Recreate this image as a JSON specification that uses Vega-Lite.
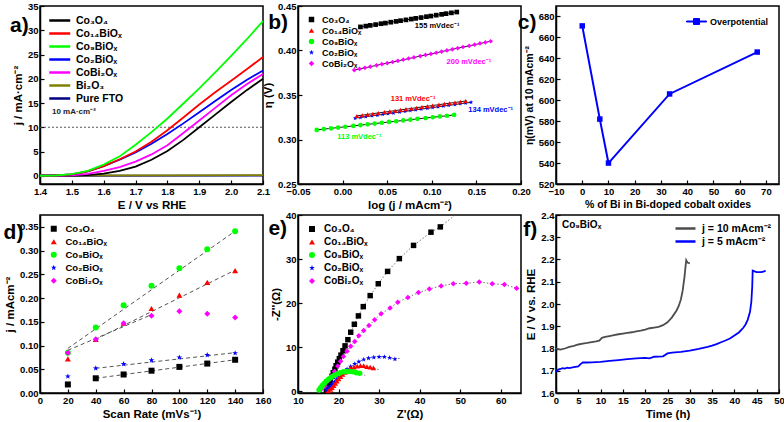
{
"$schema":"https://vega.github.io/schema/vega-lite/v6.json",
"padding":{"left":2,"top":0,"right":1,"bottom":0},
"background":"white",
"columns":3,
"spacing":{"row":31,"column":35},
"bounds":"flush",
"resolve":{"scale":{"color":"independent","shape":"independent"}},
"config":{
 "font":"Liberation Sans",
 "view":{"stroke":"#000","strokeWidth":1.5},
 "axis":{"grid":false,"labelFont":"Liberation Sans","labelFontWeight":"bold","labelFontSize":9.5,"labelColor":"#000","labelFlush":false,"labelOverlap":false,"titleFont":"Liberation Sans","titleFontWeight":"bold","titleFontSize":11.5,"titleColor":"#000","domainColor":"#000","domainWidth":1.5,"tickColor":"#000","tickWidth":1.2,"tickSize":-4,"labelPadding":6,"titlePadding":4},
 "legend":{"labelFont":"Liberation Sans","labelFontWeight":"bold","labelColor":"#000","labelFontSize":10}
},
"datasets":{
 "a":[
  {"s":"Pure FTO","x":1.4,"y":0},{"s":"Pure FTO","x":2.1,"y":0.02},
  {"s":"Bi₂O₃","x":1.4,"y":0.05},{"s":"Bi₂O₃","x":1.75,"y":0.08},{"s":"Bi₂O₃","x":2.1,"y":0.12},
  {"s":"Co₃O₄","x":1.4,"y":0},{"s":"Co₃O₄","x":1.45,"y":0},{"s":"Co₃O₄","x":1.5,"y":0.05},{"s":"Co₃O₄","x":1.55,"y":0.15},{"s":"Co₃O₄","x":1.6,"y":0.45},{"s":"Co₃O₄","x":1.65,"y":1.0},{"s":"Co₃O₄","x":1.7,"y":1.9},{"s":"Co₃O₄","x":1.75,"y":3.3},{"s":"Co₃O₄","x":1.8,"y":5.1},{"s":"Co₃O₄","x":1.85,"y":7.4},{"s":"Co₃O₄","x":1.9,"y":10.0},{"s":"Co₃O₄","x":1.95,"y":12.6},{"s":"Co₃O₄","x":2.0,"y":15.2},{"s":"Co₃O₄","x":2.05,"y":17.7},{"s":"Co₃O₄","x":2.1,"y":20.0},
  {"s":"CoBi₂Oₓ","x":1.4,"y":0},{"s":"CoBi₂Oₓ","x":1.45,"y":0},{"s":"CoBi₂Oₓ","x":1.5,"y":0.1},{"s":"CoBi₂Oₓ","x":1.55,"y":0.4},{"s":"CoBi₂Oₓ","x":1.6,"y":1.0},{"s":"CoBi₂Oₓ","x":1.65,"y":1.8},{"s":"CoBi₂Oₓ","x":1.7,"y":2.9},{"s":"CoBi₂Oₓ","x":1.75,"y":4.4},{"s":"CoBi₂Oₓ","x":1.8,"y":6.3},{"s":"CoBi₂Oₓ","x":1.85,"y":8.8},{"s":"CoBi₂Oₓ","x":1.9,"y":11.4},{"s":"CoBi₂Oₓ","x":1.95,"y":14.0},{"s":"CoBi₂Oₓ","x":2.0,"y":16.6},{"s":"CoBi₂Oₓ","x":2.05,"y":18.9},{"s":"CoBi₂Oₓ","x":2.1,"y":21.0},
  {"s":"Co₂BiOₓ","x":1.4,"y":0},{"s":"Co₂BiOₓ","x":1.45,"y":0.05},{"s":"Co₂BiOₓ","x":1.5,"y":0.3},{"s":"Co₂BiOₓ","x":1.55,"y":0.9},{"s":"Co₂BiOₓ","x":1.6,"y":2.0},{"s":"Co₂BiOₓ","x":1.65,"y":3.3},{"s":"Co₂BiOₓ","x":1.7,"y":4.8},{"s":"Co₂BiOₓ","x":1.75,"y":6.6},{"s":"Co₂BiOₓ","x":1.8,"y":8.6},{"s":"Co₂BiOₓ","x":1.85,"y":10.8},{"s":"Co₂BiOₓ","x":1.9,"y":13.1},{"s":"Co₂BiOₓ","x":1.95,"y":15.4},{"s":"Co₂BiOₓ","x":2.0,"y":17.7},{"s":"Co₂BiOₓ","x":2.05,"y":19.8},{"s":"Co₂BiOₓ","x":2.1,"y":21.7},
  {"s":"Co₁₄BiOₓ","x":1.4,"y":0},{"s":"Co₁₄BiOₓ","x":1.45,"y":0.05},{"s":"Co₁₄BiOₓ","x":1.5,"y":0.3},{"s":"Co₁₄BiOₓ","x":1.55,"y":0.9},{"s":"Co₁₄BiOₓ","x":1.6,"y":2.0},{"s":"Co₁₄BiOₓ","x":1.65,"y":3.4},{"s":"Co₁₄BiOₓ","x":1.7,"y":5.0},{"s":"Co₁₄BiOₓ","x":1.75,"y":7.0},{"s":"Co₁₄BiOₓ","x":1.8,"y":9.4},{"s":"Co₁₄BiOₓ","x":1.85,"y":12.0},{"s":"Co₁₄BiOₓ","x":1.9,"y":14.7},{"s":"Co₁₄BiOₓ","x":1.95,"y":17.2},{"s":"Co₁₄BiOₓ","x":2.0,"y":19.6},{"s":"Co₁₄BiOₓ","x":2.05,"y":22.0},{"s":"Co₁₄BiOₓ","x":2.1,"y":24.5},
  {"s":"Co₉BiOₓ","x":1.4,"y":0},{"s":"Co₉BiOₓ","x":1.45,"y":0.05},{"s":"Co₉BiOₓ","x":1.5,"y":0.35},{"s":"Co₉BiOₓ","x":1.55,"y":1.0},{"s":"Co₉BiOₓ","x":1.6,"y":2.3},{"s":"Co₉BiOₓ","x":1.65,"y":4.0},{"s":"Co₉BiOₓ","x":1.7,"y":6.4},{"s":"Co₉BiOₓ","x":1.75,"y":9.0},{"s":"Co₉BiOₓ","x":1.8,"y":11.8},{"s":"Co₉BiOₓ","x":1.85,"y":14.9},{"s":"Co₉BiOₓ","x":1.9,"y":18.0},{"s":"Co₉BiOₓ","x":1.95,"y":21.3},{"s":"Co₉BiOₓ","x":2.0,"y":24.7},{"s":"Co₉BiOₓ","x":2.05,"y":28.2},{"s":"Co₉BiOₓ","x":2.1,"y":31.9}
 ],
 "b":[
  {"s":"Co₃O₄","x":0.020,"y":0.4265},{"s":"Co₃O₄","x":0.026,"y":0.4274},{"s":"Co₃O₄","x":0.031,"y":0.4282},{"s":"Co₃O₄","x":0.037,"y":0.4291},{"s":"Co₃O₄","x":0.043,"y":0.4301},{"s":"Co₃O₄","x":0.048,"y":0.4308},{"s":"Co₃O₄","x":0.054,"y":0.4318},{"s":"Co₃O₄","x":0.060,"y":0.4327},{"s":"Co₃O₄","x":0.065,"y":0.4335},{"s":"Co₃O₄","x":0.071,"y":0.4344},{"s":"Co₃O₄","x":0.077,"y":0.4353},{"s":"Co₃O₄","x":0.082,"y":0.4361},{"s":"Co₃O₄","x":0.088,"y":0.4370},{"s":"Co₃O₄","x":0.094,"y":0.4380},{"s":"Co₃O₄","x":0.099,"y":0.4387},{"s":"Co₃O₄","x":0.105,"y":0.4397},{"s":"Co₃O₄","x":0.111,"y":0.4406},{"s":"Co₃O₄","x":0.116,"y":0.4414},{"s":"Co₃O₄","x":0.122,"y":0.4423},{"s":"Co₃O₄","x":0.128,"y":0.4432},
  {"s":"CoBi₂Oₓ","x":0.013,"y":0.3780},{"s":"CoBi₂Oₓ","x":0.019,"y":0.3793},{"s":"CoBi₂Oₓ","x":0.025,"y":0.3805},{"s":"CoBi₂Oₓ","x":0.031,"y":0.3818},{"s":"CoBi₂Oₓ","x":0.038,"y":0.3833},{"s":"CoBi₂Oₓ","x":0.044,"y":0.3846},{"s":"CoBi₂Oₓ","x":0.050,"y":0.3858},{"s":"CoBi₂Oₓ","x":0.056,"y":0.3871},{"s":"CoBi₂Oₓ","x":0.062,"y":0.3884},{"s":"CoBi₂Oₓ","x":0.068,"y":0.3897},{"s":"CoBi₂Oₓ","x":0.074,"y":0.3910},{"s":"CoBi₂Oₓ","x":0.080,"y":0.3922},{"s":"CoBi₂Oₓ","x":0.087,"y":0.3937},{"s":"CoBi₂Oₓ","x":0.093,"y":0.3950},{"s":"CoBi₂Oₓ","x":0.099,"y":0.3962},{"s":"CoBi₂Oₓ","x":0.105,"y":0.3975},{"s":"CoBi₂Oₓ","x":0.111,"y":0.3988},{"s":"CoBi₂Oₓ","x":0.117,"y":0.4001},{"s":"CoBi₂Oₓ","x":0.123,"y":0.4013},{"s":"CoBi₂Oₓ","x":0.129,"y":0.4026},{"s":"CoBi₂Oₓ","x":0.135,"y":0.4039},{"s":"CoBi₂Oₓ","x":0.142,"y":0.4053},{"s":"CoBi₂Oₓ","x":0.148,"y":0.4066},{"s":"CoBi₂Oₓ","x":0.154,"y":0.4079},{"s":"CoBi₂Oₓ","x":0.160,"y":0.4091},{"s":"CoBi₂Oₓ","x":0.166,"y":0.4104},
  {"s":"Co₂BiOₓ","x":0.014,"y":0.3239},{"s":"Co₂BiOₓ","x":0.020,"y":0.3247},{"s":"Co₂BiOₓ","x":0.026,"y":0.3256},{"s":"Co₂BiOₓ","x":0.033,"y":0.3265},{"s":"Co₂BiOₓ","x":0.039,"y":0.3273},{"s":"Co₂BiOₓ","x":0.045,"y":0.3282},{"s":"Co₂BiOₓ","x":0.051,"y":0.3290},{"s":"Co₂BiOₓ","x":0.057,"y":0.3298},{"s":"Co₂BiOₓ","x":0.064,"y":0.3308},{"s":"Co₂BiOₓ","x":0.070,"y":0.3316},{"s":"Co₂BiOₓ","x":0.076,"y":0.3324},{"s":"Co₂BiOₓ","x":0.082,"y":0.3333},{"s":"Co₂BiOₓ","x":0.088,"y":0.3341},{"s":"Co₂BiOₓ","x":0.095,"y":0.3351},{"s":"Co₂BiOₓ","x":0.101,"y":0.3359},{"s":"Co₂BiOₓ","x":0.107,"y":0.3367},{"s":"Co₂BiOₓ","x":0.113,"y":0.3375},{"s":"Co₂BiOₓ","x":0.119,"y":0.3384},{"s":"Co₂BiOₓ","x":0.126,"y":0.3393},{"s":"Co₂BiOₓ","x":0.132,"y":0.3402},{"s":"Co₂BiOₓ","x":0.138,"y":0.3410},{"s":"Co₂BiOₓ","x":0.144,"y":0.3418},
  {"s":"Co₁₄BiOₓ","x":0.016,"y":0.3265},{"s":"Co₁₄BiOₓ","x":0.022,"y":0.3273},{"s":"Co₁₄BiOₓ","x":0.028,"y":0.3282},{"s":"Co₁₄BiOₓ","x":0.034,"y":0.3290},{"s":"Co₁₄BiOₓ","x":0.040,"y":0.3298},{"s":"Co₁₄BiOₓ","x":0.047,"y":0.3308},{"s":"Co₁₄BiOₓ","x":0.053,"y":0.3316},{"s":"Co₁₄BiOₓ","x":0.059,"y":0.3324},{"s":"Co₁₄BiOₓ","x":0.065,"y":0.3333},{"s":"Co₁₄BiOₓ","x":0.071,"y":0.3341},{"s":"Co₁₄BiOₓ","x":0.077,"y":0.3349},{"s":"Co₁₄BiOₓ","x":0.083,"y":0.3357},{"s":"Co₁₄BiOₓ","x":0.089,"y":0.3366},{"s":"Co₁₄BiOₓ","x":0.095,"y":0.3374},{"s":"Co₁₄BiOₓ","x":0.101,"y":0.3382},{"s":"Co₁₄BiOₓ","x":0.108,"y":0.3392},{"s":"Co₁₄BiOₓ","x":0.114,"y":0.3400},{"s":"Co₁₄BiOₓ","x":0.120,"y":0.3408},{"s":"Co₁₄BiOₓ","x":0.126,"y":0.3416},{"s":"Co₁₄BiOₓ","x":0.132,"y":0.3425},{"s":"Co₁₄BiOₓ","x":0.138,"y":0.3433},
  {"s":"Co₉BiOₓ","x":-0.029,"y":0.3108},{"s":"Co₉BiOₓ","x":-0.021,"y":0.3117},{"s":"Co₉BiOₓ","x":-0.013,"y":0.3126},{"s":"Co₉BiOₓ","x":-0.005,"y":0.3134},{"s":"Co₉BiOₓ","x":0.003,"y":0.3143},{"s":"Co₉BiOₓ","x":0.012,"y":0.3153},{"s":"Co₉BiOₓ","x":0.020,"y":0.3162},{"s":"Co₉BiOₓ","x":0.028,"y":0.3170},{"s":"Co₉BiOₓ","x":0.036,"y":0.3179},{"s":"Co₉BiOₓ","x":0.044,"y":0.3188},{"s":"Co₉BiOₓ","x":0.052,"y":0.3197},{"s":"Co₉BiOₓ","x":0.060,"y":0.3205},{"s":"Co₉BiOₓ","x":0.068,"y":0.3214},{"s":"Co₉BiOₓ","x":0.076,"y":0.3223},{"s":"Co₉BiOₓ","x":0.084,"y":0.3232},{"s":"Co₉BiOₓ","x":0.093,"y":0.3241},{"s":"Co₉BiOₓ","x":0.101,"y":0.3250},{"s":"Co₉BiOₓ","x":0.109,"y":0.3259},{"s":"Co₉BiOₓ","x":0.117,"y":0.3267},{"s":"Co₉BiOₓ","x":0.125,"y":0.3276}
 ],
 "bfit":[
  {"s":"Co₃O₄","x":0.018,"y":0.4262},{"s":"Co₃O₄","x":0.130,"y":0.4435},
  {"s":"CoBi₂Oₓ","x":0.012,"y":0.3778},{"s":"CoBi₂Oₓ","x":0.167,"y":0.4106},
  {"s":"Co₂BiOₓ","x":0.013,"y":0.3238},{"s":"Co₂BiOₓ","x":0.145,"y":0.3419},
  {"s":"Co₁₄BiOₓ","x":0.015,"y":0.3264},{"s":"Co₁₄BiOₓ","x":0.139,"y":0.3434},
  {"s":"Co₉BiOₓ","x":-0.030,"y":0.3107},{"s":"Co₉BiOₓ","x":0.126,"y":0.3277}
 ],
 "btext":[
  {"s":"Co₃O₄","x":0.106,"y":0.4276,"t":"155 mVdec⁻¹"},
  {"s":"CoBi₂Oₓ","x":0.1416,"y":0.387,"t":"200 mVdec⁻¹"},
  {"s":"Co₁₄BiOₓ","x":0.079,"y":0.346,"t":"131 mVdec⁻¹"},
  {"s":"Co₂BiOₓ","x":0.166,"y":0.3332,"t":"134 mVdec⁻¹"},
  {"s":"Co₉BiOₓ","x":0.0188,"y":0.3033,"t":"113 mVdec⁻¹"}
 ],
 "c":[
  {"s":"Overpotential","x":0,"y":671},{"s":"Overpotential","x":6.7,"y":582},{"s":"Overpotential","x":10,"y":540},{"s":"Overpotential","x":33.3,"y":606},{"s":"Overpotential","x":66.7,"y":646}
 ],
 "d":[
  {"s":"Co₃O₄","x":20,"y":0.018},{"s":"Co₃O₄","x":40,"y":0.031},{"s":"Co₃O₄","x":60,"y":0.039},{"s":"Co₃O₄","x":80,"y":0.047},{"s":"Co₃O₄","x":100,"y":0.055},{"s":"Co₃O₄","x":120,"y":0.062},{"s":"Co₃O₄","x":140,"y":0.070},
  {"s":"Co₂BiOₓ","x":20,"y":0.035},{"s":"Co₂BiOₓ","x":40,"y":0.052},{"s":"Co₂BiOₓ","x":60,"y":0.061},{"s":"Co₂BiOₓ","x":80,"y":0.069},{"s":"Co₂BiOₓ","x":100,"y":0.075},{"s":"Co₂BiOₓ","x":120,"y":0.080},{"s":"Co₂BiOₓ","x":140,"y":0.084},
  {"s":"Co₉BiOₓ","x":20,"y":0.085},{"s":"Co₉BiOₓ","x":40,"y":0.138},{"s":"Co₉BiOₓ","x":60,"y":0.185},{"s":"Co₉BiOₓ","x":80,"y":0.226},{"s":"Co₉BiOₓ","x":100,"y":0.263},{"s":"Co₉BiOₓ","x":120,"y":0.303},{"s":"Co₉BiOₓ","x":140,"y":0.341},
  {"s":"Co₁₄BiOₓ","x":20,"y":0.072},{"s":"Co₁₄BiOₓ","x":40,"y":0.113},{"s":"Co₁₄BiOₓ","x":60,"y":0.147},{"s":"Co₁₄BiOₓ","x":80,"y":0.178},{"s":"Co₁₄BiOₓ","x":100,"y":0.206},{"s":"Co₁₄BiOₓ","x":120,"y":0.233},{"s":"Co₁₄BiOₓ","x":140,"y":0.258},
  {"s":"CoBi₂Oₓ","x":20,"y":0.085},{"s":"CoBi₂Oₓ","x":40,"y":0.113},{"s":"CoBi₂Oₓ","x":60,"y":0.147},{"s":"CoBi₂Oₓ","x":80,"y":0.163},{"s":"CoBi₂Oₓ","x":100,"y":0.172},{"s":"CoBi₂Oₓ","x":120,"y":0.167},{"s":"CoBi₂Oₓ","x":140,"y":0.159}
 ],
 "dfit":[
  {"s":"Co₃O₄","x":40,"y":0.031},{"s":"Co₃O₄","x":140,"y":0.070},
  {"s":"Co₂BiOₓ","x":40,"y":0.052},{"s":"Co₂BiOₓ","x":140,"y":0.085},
  {"s":"Co₉BiOₓ","x":20,"y":0.094},{"s":"Co₉BiOₓ","x":140,"y":0.341},
  {"s":"Co₁₄BiOₓ","x":40,"y":0.113},{"s":"Co₁₄BiOₓ","x":140,"y":0.259},
  {"s":"CoBi₂Oₓ","x":20,"y":0.09},{"s":"CoBi₂Oₓ","x":80,"y":0.165}
 ],
 "e":[
  {"s":"Co₃O₄","x":17.0,"y":0.3},{"s":"Co₃O₄","x":17.3,"y":1.0},{"s":"Co₃O₄","x":17.7,"y":1.8},{"s":"Co₃O₄","x":18.0,"y":2.6},{"s":"Co₃O₄","x":18.4,"y":3.4},{"s":"Co₃O₄","x":18.7,"y":4.2},{"s":"Co₃O₄","x":19.1,"y":5.0},{"s":"Co₃O₄","x":19.4,"y":5.8},{"s":"Co₃O₄","x":19.8,"y":6.6},{"s":"Co₃O₄","x":20.2,"y":7.4},{"s":"Co₃O₄","x":20.6,"y":8.2},{"s":"Co₃O₄","x":21.1,"y":9.2},{"s":"Co₃O₄","x":21.6,"y":10.3},{"s":"Co₃O₄","x":22.3,"y":11.7},{"s":"Co₃O₄","x":23.0,"y":13.4},{"s":"Co₃O₄","x":23.9,"y":15.2},{"s":"Co₃O₄","x":24.9,"y":17.1},{"s":"Co₃O₄","x":26.1,"y":19.2},{"s":"Co₃O₄","x":27.8,"y":21.7},{"s":"Co₃O₄","x":29.8,"y":24.4},{"s":"Co₃O₄","x":32.1,"y":27.2},{"s":"Co₃O₄","x":35.0,"y":30.1},{"s":"Co₃O₄","x":38.5,"y":33.1},{"s":"Co₃O₄","x":42.8,"y":36.1},{"s":"Co₃O₄","x":45.1,"y":37.3},{"s":"Co₃O₄","x":48.5,"y":39.8,"f":1},
  {"s":"CoBi₂Oₓ","x":15.7,"y":0.4},{"s":"CoBi₂Oₓ","x":16.6,"y":1.1},{"s":"CoBi₂Oₓ","x":17.4,"y":2.3},{"s":"CoBi₂Oₓ","x":18.2,"y":3.4},{"s":"CoBi₂Oₓ","x":19.0,"y":4.5},{"s":"CoBi₂Oₓ","x":19.8,"y":5.7},{"s":"CoBi₂Oₓ","x":20.5,"y":6.8},{"s":"CoBi₂Oₓ","x":21.2,"y":7.9},{"s":"CoBi₂Oₓ","x":22.1,"y":9.1},{"s":"CoBi₂Oₓ","x":23.0,"y":10.2},{"s":"CoBi₂Oₓ","x":24.0,"y":11.3},{"s":"CoBi₂Oₓ","x":25.0,"y":12.6},{"s":"CoBi₂Oₓ","x":26.2,"y":13.8},{"s":"CoBi₂Oₓ","x":27.5,"y":14.9},{"s":"CoBi₂Oₓ","x":28.9,"y":16.2},{"s":"CoBi₂Oₓ","x":30.5,"y":17.6},{"s":"CoBi₂Oₓ","x":32.7,"y":18.9},{"s":"CoBi₂Oₓ","x":34.6,"y":20.2},{"s":"CoBi₂Oₓ","x":37.1,"y":21.3},{"s":"CoBi₂Oₓ","x":39.7,"y":22.4},{"s":"CoBi₂Oₓ","x":42.4,"y":23.2},{"s":"CoBi₂Oₓ","x":45.3,"y":23.9},{"s":"CoBi₂Oₓ","x":48.3,"y":24.4},{"s":"CoBi₂Oₓ","x":51.5,"y":24.5},{"s":"CoBi₂Oₓ","x":54.7,"y":24.8},{"s":"CoBi₂Oₓ","x":57.9,"y":24.4},{"s":"CoBi₂Oₓ","x":60.9,"y":24.2},{"s":"CoBi₂Oₓ","x":63.9,"y":23.4},{"s":"CoBi₂Oₓ","x":65.0,"y":23.0,"f":1},
  {"s":"Co₂BiOₓ","x":17.0,"y":0.2},{"s":"Co₂BiOₓ","x":17.5,"y":0.6},{"s":"Co₂BiOₓ","x":18.0,"y":1.1},{"s":"Co₂BiOₓ","x":18.5,"y":1.6},{"s":"Co₂BiOₓ","x":19.0,"y":2.1},{"s":"Co₂BiOₓ","x":19.5,"y":2.7},{"s":"Co₂BiOₓ","x":20.0,"y":3.2},{"s":"Co₂BiOₓ","x":20.6,"y":3.8},{"s":"Co₂BiOₓ","x":21.3,"y":4.4},{"s":"Co₂BiOₓ","x":22.1,"y":5.0},{"s":"Co₂BiOₓ","x":23.0,"y":5.6},{"s":"Co₂BiOₓ","x":24.0,"y":6.2},{"s":"Co₂BiOₓ","x":25.0,"y":6.7},{"s":"Co₂BiOₓ","x":26.2,"y":7.2},{"s":"Co₂BiOₓ","x":27.4,"y":7.5},{"s":"Co₂BiOₓ","x":28.7,"y":7.7},{"s":"Co₂BiOₓ","x":30.0,"y":7.8},{"s":"Co₂BiOₓ","x":31.3,"y":7.8},{"s":"Co₂BiOₓ","x":32.6,"y":7.6},{"s":"Co₂BiOₓ","x":33.9,"y":7.3},{"s":"Co₂BiOₓ","x":35.6,"y":7.5,"f":1},
  {"s":"Co₁₄BiOₓ","x":17.5,"y":0.1},{"s":"Co₁₄BiOₓ","x":18.0,"y":0.4},{"s":"Co₁₄BiOₓ","x":18.4,"y":0.8},{"s":"Co₁₄BiOₓ","x":18.8,"y":1.3},{"s":"Co₁₄BiOₓ","x":19.2,"y":1.8},{"s":"Co₁₄BiOₓ","x":19.6,"y":2.3},{"s":"Co₁₄BiOₓ","x":20.0,"y":2.8},{"s":"Co₁₄BiOₓ","x":20.5,"y":3.3},{"s":"Co₁₄BiOₓ","x":21.0,"y":3.8},{"s":"Co₁₄BiOₓ","x":21.6,"y":4.3},{"s":"Co₁₄BiOₓ","x":22.3,"y":4.8},{"s":"Co₁₄BiOₓ","x":23.0,"y":5.2},{"s":"Co₁₄BiOₓ","x":23.8,"y":5.5},{"s":"Co₁₄BiOₓ","x":24.6,"y":5.7},{"s":"Co₁₄BiOₓ","x":25.4,"y":5.8},{"s":"Co₁₄BiOₓ","x":26.2,"y":5.8},{"s":"Co₁₄BiOₓ","x":27.0,"y":5.6},{"s":"Co₁₄BiOₓ","x":27.8,"y":5.5},{"s":"Co₁₄BiOₓ","x":28.6,"y":5.3},{"s":"Co₁₄BiOₓ","x":30.0,"y":4.9,"f":1},
  {"s":"Co₉BiOₓ","x":15.2,"y":0.3},{"s":"Co₉BiOₓ","x":15.6,"y":0.8},{"s":"Co₉BiOₓ","x":16.0,"y":1.3},{"s":"Co₉BiOₓ","x":16.5,"y":1.8},{"s":"Co₉BiOₓ","x":17.0,"y":2.3},{"s":"Co₉BiOₓ","x":17.6,"y":2.8},{"s":"Co₉BiOₓ","x":18.2,"y":3.2},{"s":"Co₉BiOₓ","x":18.9,"y":3.6},{"s":"Co₉BiOₓ","x":19.6,"y":3.9},{"s":"Co₉BiOₓ","x":20.4,"y":4.2},{"s":"Co₉BiOₓ","x":21.2,"y":4.4},{"s":"Co₉BiOₓ","x":22.0,"y":4.5},{"s":"Co₉BiOₓ","x":22.8,"y":4.5},{"s":"Co₉BiOₓ","x":23.6,"y":4.4},{"s":"Co₉BiOₓ","x":24.4,"y":4.2},{"s":"Co₉BiOₓ","x":25.2,"y":4.1},{"s":"Co₉BiOₓ","x":26.6,"y":3.6,"f":1}
 ],
 "f":[
  {"s":"j = 10 mAcm⁻²","x":0,"y":1.800},{"s":"j = 10 mAcm⁻²","x":1,"y":1.795},{"s":"j = 10 mAcm⁻²","x":2,"y":1.800},{"s":"j = 10 mAcm⁻²","x":3,"y":1.807},{"s":"j = 10 mAcm⁻²","x":4,"y":1.812},{"s":"j = 10 mAcm⁻²","x":5,"y":1.818},{"s":"j = 10 mAcm⁻²","x":6,"y":1.822},{"s":"j = 10 mAcm⁻²","x":7,"y":1.825},{"s":"j = 10 mAcm⁻²","x":8,"y":1.829},{"s":"j = 10 mAcm⁻²","x":9,"y":1.832},{"s":"j = 10 mAcm⁻²","x":9.7,"y":1.835},{"s":"j = 10 mAcm⁻²","x":10.3,"y":1.848},{"s":"j = 10 mAcm⁻²","x":11,"y":1.852},{"s":"j = 10 mAcm⁻²","x":12,"y":1.856},{"s":"j = 10 mAcm⁻²","x":13,"y":1.860},{"s":"j = 10 mAcm⁻²","x":14,"y":1.864},{"s":"j = 10 mAcm⁻²","x":15,"y":1.867},{"s":"j = 10 mAcm⁻²","x":16,"y":1.870},{"s":"j = 10 mAcm⁻²","x":17,"y":1.873},{"s":"j = 10 mAcm⁻²","x":18,"y":1.877},{"s":"j = 10 mAcm⁻²","x":19,"y":1.880},{"s":"j = 10 mAcm⁻²","x":20,"y":1.885},{"s":"j = 10 mAcm⁻²","x":21,"y":1.891},{"s":"j = 10 mAcm⁻²","x":22,"y":1.894},{"s":"j = 10 mAcm⁻²","x":23,"y":1.897},{"s":"j = 10 mAcm⁻²","x":24,"y":1.905},{"s":"j = 10 mAcm⁻²","x":25,"y":1.918},{"s":"j = 10 mAcm⁻²","x":26,"y":1.940},{"s":"j = 10 mAcm⁻²","x":27,"y":1.970},{"s":"j = 10 mAcm⁻²","x":27.5,"y":1.990},{"s":"j = 10 mAcm⁻²","x":28,"y":2.020},{"s":"j = 10 mAcm⁻²","x":28.4,"y":2.060},{"s":"j = 10 mAcm⁻²","x":28.8,"y":2.120},{"s":"j = 10 mAcm⁻²","x":29.0,"y":2.160},{"s":"j = 10 mAcm⁻²","x":29.2,"y":2.197},{"s":"j = 10 mAcm⁻²","x":29.5,"y":2.186},{"s":"j = 10 mAcm⁻²","x":30,"y":2.183},
  {"s":"j = 5 mAcm⁻²","x":0,"y":1.695},{"s":"j = 5 mAcm⁻²","x":0.5,"y":1.705},{"s":"j = 5 mAcm⁻²","x":1,"y":1.708},{"s":"j = 5 mAcm⁻²","x":1.5,"y":1.712},{"s":"j = 5 mAcm⁻²","x":2,"y":1.710},{"s":"j = 5 mAcm⁻²","x":2.5,"y":1.714},{"s":"j = 5 mAcm⁻²","x":3,"y":1.712},{"s":"j = 5 mAcm⁻²","x":4,"y":1.716},{"s":"j = 5 mAcm⁻²","x":5,"y":1.720},{"s":"j = 5 mAcm⁻²","x":5.5,"y":1.730},{"s":"j = 5 mAcm⁻²","x":6,"y":1.737},{"s":"j = 5 mAcm⁻²","x":7,"y":1.737},{"s":"j = 5 mAcm⁻²","x":8,"y":1.738},{"s":"j = 5 mAcm⁻²","x":10,"y":1.740},{"s":"j = 5 mAcm⁻²","x":12,"y":1.744},{"s":"j = 5 mAcm⁻²","x":14,"y":1.748},{"s":"j = 5 mAcm⁻²","x":16,"y":1.752},{"s":"j = 5 mAcm⁻²","x":18,"y":1.756},{"s":"j = 5 mAcm⁻²","x":20,"y":1.758},{"s":"j = 5 mAcm⁻²","x":21,"y":1.756},{"s":"j = 5 mAcm⁻²","x":22,"y":1.763},{"s":"j = 5 mAcm⁻²","x":24,"y":1.765},{"s":"j = 5 mAcm⁻²","x":25,"y":1.778},{"s":"j = 5 mAcm⁻²","x":26,"y":1.781},{"s":"j = 5 mAcm⁻²","x":28,"y":1.785},{"s":"j = 5 mAcm⁻²","x":30,"y":1.790},{"s":"j = 5 mAcm⁻²","x":32,"y":1.798},{"s":"j = 5 mAcm⁻²","x":34,"y":1.807},{"s":"j = 5 mAcm⁻²","x":35,"y":1.813},{"s":"j = 5 mAcm⁻²","x":36,"y":1.820},{"s":"j = 5 mAcm⁻²","x":37,"y":1.828},{"s":"j = 5 mAcm⁻²","x":38,"y":1.836},{"s":"j = 5 mAcm⁻²","x":39,"y":1.845},{"s":"j = 5 mAcm⁻²","x":40,"y":1.858},{"s":"j = 5 mAcm⁻²","x":41,"y":1.872},{"s":"j = 5 mAcm⁻²","x":42,"y":1.893},{"s":"j = 5 mAcm⁻²","x":42.5,"y":1.908},{"s":"j = 5 mAcm⁻²","x":43,"y":1.930},{"s":"j = 5 mAcm⁻²","x":43.5,"y":1.965},{"s":"j = 5 mAcm⁻²","x":43.8,"y":2.010},{"s":"j = 5 mAcm⁻²","x":44.0,"y":2.080},{"s":"j = 5 mAcm⁻²","x":44.1,"y":2.150},{"s":"j = 5 mAcm⁻²","x":44.5,"y":2.147},{"s":"j = 5 mAcm⁻²","x":45,"y":2.143},{"s":"j = 5 mAcm⁻²","x":46,"y":2.143},{"s":"j = 5 mAcm⁻²","x":46.5,"y":2.145},{"s":"j = 5 mAcm⁻²","x":47,"y":2.150}
 ]
},
"concat":[
 {
  "width":223,"height":178,
  "encoding":{
   "x":{"field":"x","type":"quantitative","scale":{"domain":[1.4,2.1],"nice":false,"zero":false},"axis":{"title":"E / V vs RHE","values":[1.4,1.5,1.6,1.7,1.8,1.9,2.0,2.1],"format":".1f"}},
   "y":{"field":"y","type":"quantitative","scale":{"domain":[-1.7,35],"nice":false,"zero":false},"axis":{"title":"j / mA·cm⁻²","values":[0,5,10,15,20,25,30,35]}}
  },
  "layer":[
   {"data":{"values":[{"x":1.4,"y":10},{"x":2.1,"y":10}]},"mark":{"type":"line","strokeDash":[2,2],"color":"#555","strokeWidth":1}},
   {"data":{"name":"a"},"mark":{"type":"line","strokeWidth":1.8},
    "encoding":{"color":{"field":"s","type":"nominal","scale":{"domain":["Co₃O₄","Co₁₄BiOₓ","Co₉BiOₓ","Co₂BiOₓ","CoBi₂Oₓ","Bi₂O₃","Pure FTO"],"range":["#000000","#ff0000","#00ff00","#0000ff","#ff00ff","#808000","#000080"]},
     "legend":{"title":null,"orient":"top-left","offset":6,"padding":2,"symbolType":"M-1,0H3","symbolSize":110,"symbolStrokeWidth":2.5,"labelFontSize":10.5,"labelOffset":15,"rowPadding":1}}}},
   {"data":{"values":[{"x":1.4375,"y":13.1,"t":"10 mA·cm⁻²"}]},"mark":{"type":"text","align":"left","baseline":"middle","fontSize":8,"fontWeight":"bold","font":"Liberation Sans","color":"#222"},"encoding":{"text":{"field":"t"}}},
   {"data":{"values":[{"x":1.335,"y":30.9,"t":"a)"}]},"mark":{"type":"text","align":"center","baseline":"middle","fontSize":21,"fontWeight":"bold","font":"Liberation Sans","color":"#000"},"encoding":{"text":{"field":"t"}}}
  ]
 },
 {
  "width":223,"height":178,
  "encoding":{
   "x":{"field":"x","type":"quantitative","scale":{"domain":[-0.05,0.2],"nice":false,"zero":false},"axis":{"title":"log (j / mAcm⁻²)","values":[-0.05,0,0.05,0.1,0.15,0.2],"format":".2f"}},
   "y":{"field":"y","type":"quantitative","scale":{"domain":[0.25,0.45],"nice":false,"zero":false},"axis":{"title":"η (V)","values":[0.25,0.3,0.35,0.4,0.45],"format":".2f"}}
  },
  "layer":[
   {"data":{"name":"bfit"},"mark":{"type":"line","color":"#000","strokeWidth":0.9},"encoding":{"detail":{"field":"s"}}},
   {"data":{"name":"b"},"mark":{"type":"point","filled":true,"size":22,"opacity":1},
    "encoding":{
     "color":{"field":"s","type":"nominal","scale":{"domain":["Co₃O₄","Co₁₄BiOₓ","Co₉BiOₓ","Co₂BiOₓ","CoBi₂Oₓ"],"range":["#000000","#ff0000","#00ff00","#0000ff","#ff00ff"]},"legend":{"title":null,"orient":"top-left","offset":8,"padding":1,"symbolSize":30,"labelFontSize":9,"labelOffset":6,"rowPadding":1}},
     "shape":{"field":"s","type":"nominal","scale":{"domain":["Co₃O₄","Co₁₄BiOₓ","Co₉BiOₓ","Co₂BiOₓ","CoBi₂Oₓ"],"range":["square","triangle-up","circle","M0,-1L0.24,-0.32L0.95,-0.31L0.38,0.12L0.59,0.81L0,0.4L-0.59,0.81L-0.38,0.12L-0.95,-0.31L-0.24,-0.32Z","diamond"]},"legend":{"title":null,"orient":"top-left","offset":8,"padding":1,"symbolSize":30,"labelFontSize":9,"labelOffset":6,"rowPadding":1}}
    }},
   {"data":{"name":"btext"},"mark":{"type":"text","align":"center","baseline":"middle","fontSize":7.5,"fontWeight":"bold","font":"Liberation Sans"},
    "encoding":{"text":{"field":"t"},"color":{"field":"s","type":"nominal","legend":null}}},
   {"data":{"values":[{"x":-0.0723,"y":0.431,"t":"b)"}]},"mark":{"type":"text","align":"center","baseline":"middle","fontSize":21,"fontWeight":"bold","font":"Liberation Sans","color":"#000"},"encoding":{"text":{"field":"t"}}}
  ]
 },
 {
  "width":223,"height":178,
  "encoding":{
   "x":{"field":"x","type":"quantitative","scale":{"domain":[-10,75],"nice":false,"zero":false},"axis":{"title":"% of Bi in Bi-doped cobalt oxides","titleFontSize":10.5,"values":[-10,0,10,20,30,40,50,60,70]}},
   "y":{"field":"y","type":"quantitative","scale":{"domain":[520,690],"nice":false,"zero":false},"axis":{"title":"η(mV) at 10 mAcm⁻²","titleFontSize":10.5,"values":[520,540,560,580,600,620,640,660,680]}}
  },
  "layer":[
   {"data":{"name":"c"},"mark":{"type":"line","strokeWidth":2,"point":{"shape":"square","size":30,"filled":true}},
    "encoding":{"color":{"field":"s","type":"nominal","scale":{"domain":["Overpotential"],"range":["#0000ff"]},"legend":{"title":null,"orient":"top-right","offset":8,"padding":2,"labelFontSize":9,"symbolType":"M-2,-0.1H-0.6V-0.6H0.6V-0.1H2V0.1H0.6V0.6H-0.6V0.1H-2Z","symbolSize":100,"symbolStrokeWidth":1,"symbolFillColor":"#0000ff","labelOffset":8}}}},
   {"data":{"values":[{"x":-21,"y":674,"t":"c)"}]},"mark":{"type":"text","align":"center","baseline":"middle","fontSize":21,"fontWeight":"bold","font":"Liberation Sans","color":"#000"},"encoding":{"text":{"field":"t"}}}
  ]
 },
 {
  "width":223,"height":178,
  "encoding":{
   "x":{"field":"x","type":"quantitative","scale":{"domain":[0,160],"nice":false,"zero":false},"axis":{"title":"Scan Rate (mVs⁻¹)","values":[0,20,40,60,80,100,120,140,160]}},
   "y":{"field":"y","type":"quantitative","scale":{"domain":[0,0.375],"nice":false,"zero":false},"axis":{"title":"j / mAcm⁻²","values":[0,0.05,0.1,0.15,0.2,0.25,0.3,0.35],"format":".2f"}}
  },
  "layer":[
   {"data":{"name":"dfit"},"mark":{"type":"line","color":"#555","strokeWidth":1,"strokeDash":[4,3]},"encoding":{"detail":{"field":"s"}}},
   {"data":{"name":"d"},"mark":{"type":"point","filled":true,"size":36,"opacity":1},
    "encoding":{
     "color":{"field":"s","type":"nominal","scale":{"domain":["Co₃O₄","Co₁₄BiOₓ","Co₉BiOₓ","Co₂BiOₓ","CoBi₂Oₓ"],"range":["#000000","#ff0000","#00ff00","#0000ff","#ff00ff"]},"legend":{"title":null,"orient":"top-left","offset":8,"padding":1,"symbolSize":36,"labelFontSize":9.5,"labelOffset":7,"rowPadding":2}},
     "shape":{"field":"s","type":"nominal","scale":{"domain":["Co₃O₄","Co₁₄BiOₓ","Co₉BiOₓ","Co₂BiOₓ","CoBi₂Oₓ"],"range":["square","triangle-up","circle","M0,-1L0.24,-0.32L0.95,-0.31L0.38,0.12L0.59,0.81L0,0.4L-0.59,0.81L-0.38,0.12L-0.95,-0.31L-0.24,-0.32Z","diamond"]},"legend":{"title":null,"orient":"top-left","offset":8,"padding":1,"symbolSize":36,"labelFontSize":9.5,"labelOffset":7,"rowPadding":2}}
    }},
   {"data":{"values":[{"x":-19,"y":0.338,"t":"d)"}]},"mark":{"type":"text","align":"center","baseline":"middle","fontSize":21,"fontWeight":"bold","font":"Liberation Sans","color":"#000"},"encoding":{"text":{"field":"t"}}}
  ]
 },
 {
  "width":223,"height":178,
  "encoding":{
   "x":{"field":"x","type":"quantitative","scale":{"domain":[10,65],"nice":false,"zero":false},"axis":{"title":"Z'(Ω)","values":[10,20,30,40,50,60]}},
   "y":{"field":"y","type":"quantitative","scale":{"domain":[-0.4,40],"nice":false,"zero":false},"axis":{"title":"-Z''(Ω)","values":[0,10,20,30,40]}}
  },
  "layer":[
   {"data":{"name":"e"},"mark":{"type":"line","color":"#777","strokeWidth":1,"strokeDash":[1.5,2],"clip":true},"encoding":{"detail":{"field":"s"}}},
   {"data":{"name":"e"},"transform":[{"filter":"datum.f != 1"}],"mark":{"type":"point","filled":true,"size":30,"opacity":1},
    "encoding":{
     "color":{"field":"s","type":"nominal","scale":{"domain":["Co₃O₄","Co₁₄BiOₓ","Co₉BiOₓ","Co₂BiOₓ","CoBi₂Oₓ"],"range":["#000000","#ff0000","#00ff00","#0000ff","#ff00ff"]},"legend":{"title":null,"orient":"top-left","offset":8,"padding":1,"symbolSize":36,"labelFontSize":10,"labelOffset":7,"rowPadding":3}},
     "shape":{"field":"s","type":"nominal","scale":{"domain":["Co₃O₄","Co₁₄BiOₓ","Co₉BiOₓ","Co₂BiOₓ","CoBi₂Oₓ"],"range":["square","triangle-up","circle","M0,-1L0.24,-0.32L0.95,-0.31L0.38,0.12L0.59,0.81L0,0.4L-0.59,0.81L-0.38,0.12L-0.95,-0.31L-0.24,-0.32Z","diamond"]},"legend":{"title":null,"orient":"top-left","offset":8,"padding":1,"symbolSize":36,"labelFontSize":10,"labelOffset":7,"rowPadding":3}}
    }},
   {"data":{"values":[{"x":5.0,"y":36.8,"t":"e)"}]},"mark":{"type":"text","align":"center","baseline":"middle","fontSize":21,"fontWeight":"bold","font":"Liberation Sans","color":"#000"},"encoding":{"text":{"field":"t"}}}
  ]
 },
 {
  "width":223,"height":178,
  "encoding":{
   "x":{"field":"x","type":"quantitative","scale":{"domain":[0,50],"nice":false,"zero":false},"axis":{"title":"Time (h)","values":[0,5,10,15,20,25,30,35,40,45,50]}},
   "y":{"field":"y","type":"quantitative","scale":{"domain":[1.6,2.4],"nice":false,"zero":false},"axis":{"title":"E / V vs. RHE","values":[1.6,1.7,1.8,1.9,2.0,2.1,2.2,2.3,2.4],"format":".1f"}}
  },
  "layer":[
   {"data":{"name":"f"},"mark":{"type":"line","strokeWidth":1.8},
    "encoding":{"color":{"field":"s","type":"nominal","scale":{"domain":["j = 10 mAcm⁻²","j = 5 mAcm⁻²"],"range":["#4d4d4d","#0000ff"]},"legend":{"title":null,"orient":"top-right","offset":6,"padding":1,"symbolType":"M-1,0H3","symbolSize":100,"symbolStrokeWidth":2.5,"labelFontSize":10.5,"labelOffset":15,"rowPadding":1}}}},
   {"data":{"values":[{"x":1.35,"y":2.355,"t":"Co₉BiOₓ"}]},"mark":{"type":"text","align":"left","baseline":"middle","fontSize":10,"fontWeight":"bold","font":"Liberation Sans","color":"#000"},"encoding":{"text":{"field":"t"}}},
   {"data":{"values":[{"x":-5.8,"y":2.333,"t":"f)"}]},"mark":{"type":"text","align":"center","baseline":"middle","fontSize":21,"fontWeight":"bold","font":"Liberation Sans","color":"#000"},"encoding":{"text":{"field":"t"}}}
  ]
 }
]
}
